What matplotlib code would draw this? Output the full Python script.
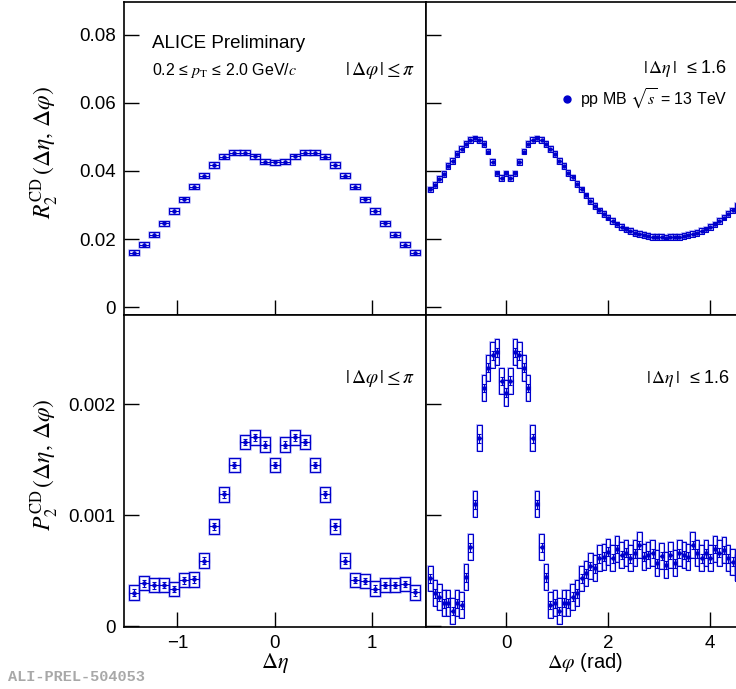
import numpy as np
import matplotlib
matplotlib.use('Agg')
from matplotlib import pyplot as plt
from matplotlib.lines import Line2D

plt.rcParams['font.family'] = ['Liberation Sans', 'DejaVu Sans']
plt.rcParams['mathtext.fontset'] = 'stix'

# R2 and P2 vs delta eta (|dphi| <= pi), 31 bins over [-1.6, 1.6], outer ones not shown
deta = np.arange(-14, 15) * 3.2 / 31
r2_eta = [0.0160, 0.0183, 0.0213, 0.0246, 0.0282, 0.0317, 0.0354, 0.0386, 0.0418, 0.0442,
          0.0454, 0.0454, 0.0443, 0.0427, 0.0426, 0.0427, 0.0443, 0.0454, 0.0454, 0.0442,
          0.0418, 0.0386, 0.0354, 0.0317, 0.0282, 0.0246, 0.0213, 0.0183, 0.0160]
p2_eta = [0.000300, 0.000385, 0.000367, 0.000369, 0.000333, 0.000412, 0.000420, 0.000589,
          0.000898, 0.001186, 0.001450, 0.001658, 0.001700, 0.001634, 0.001450, 0.001634,
          0.001700, 0.001658, 0.001450, 0.001186, 0.000898, 0.000589, 0.000414, 0.000405,
          0.000336, 0.000369, 0.000369, 0.000378, 0.000303]

# R2 and P2 vs delta phi (|deta| <= 1.6), 72 bins over 2pi
dphi = np.arange(-17, 54) * 2 * np.pi / 72
r2_phi = [0.0346, 0.0359, 0.0376, 0.0391, 0.0414, 0.0429, 0.0450, 0.0464, 0.0479, 0.0491,
          0.0496, 0.0491, 0.0479, 0.0457, 0.0427, 0.0393, 0.0379, 0.0393, 0.0379, 0.0393,
          0.0427, 0.0457, 0.0479, 0.0491, 0.0496, 0.0491, 0.0479, 0.0464, 0.0450, 0.0430,
          0.0414, 0.0394, 0.0381, 0.0362, 0.0346, 0.0328, 0.0311, 0.0297, 0.0284, 0.0273,
          0.0263, 0.0252, 0.0243, 0.0236, 0.0228, 0.0223, 0.0218, 0.0214, 0.0211, 0.0208,
          0.0206, 0.0206, 0.0205, 0.0204, 0.0205, 0.0206, 0.0206, 0.0208, 0.0211, 0.0214,
          0.0218, 0.0223, 0.0228, 0.0236, 0.0243, 0.0252, 0.0263, 0.0273, 0.0284, 0.0297,
          0.0311]
p2_phi = [0.000429, 0.000294, 0.000264, 0.000204, 0.000210, 0.000135, 0.000204, 0.000189,
          0.000439, 0.000709, 0.001096, 0.001691, 0.002144, 0.002327, 0.002441, 0.002468,
          0.002207, 0.002102, 0.002210, 0.002468, 0.002441, 0.002327, 0.002144, 0.001691,
          0.001096, 0.000709, 0.000439, 0.000189, 0.000204, 0.000135, 0.000210, 0.000204,
          0.000264, 0.000294, 0.000429, 0.000474, 0.000541, 0.000520, 0.000610, 0.000625,
          0.000670, 0.000610, 0.000694, 0.000640, 0.000661, 0.000610, 0.000655, 0.000730,
          0.000625, 0.000640, 0.000655, 0.000565, 0.000631, 0.000550, 0.000640, 0.000565,
          0.000655, 0.000640, 0.000625, 0.000730, 0.000655, 0.000610, 0.000655, 0.000610,
          0.000694, 0.000661, 0.000685, 0.000610, 0.000580, 0.000520, 0.000470]

col = '#0000cc'
halo = '#8080f0'


def draw(ax, x, y, bw, sys, stat, cap, halo_lw):
    y = np.asarray(y)
    ax.bar(x, 2 * sys, bottom=y - sys, width=bw, fill=False, edgecolor=halo,
           linewidth=halo_lw, alpha=0.55, zorder=2)
    ax.bar(x, 2 * sys, bottom=y - sys, width=bw, fill=False, edgecolor=col,
           linewidth=0.8, zorder=3)
    ax.errorbar(x, y, xerr=bw / 2, yerr=stat, fmt='o', color=col, ms=2.2,
                elinewidth=0.8, capsize=cap, capthick=0.8, zorder=4)


fig = plt.figure(figsize=(7.36, 6.89), dpi=100)
L, M, R = 124 / 736, 426 / 736, 746 / 736
T, Mid, B = 1 - 2 / 689, 1 - 315 / 689, 1 - 627 / 689
ax_tl = fig.add_axes([L, Mid, M - L, T - Mid])
ax_tr = fig.add_axes([M, Mid, R - M, T - Mid])
ax_bl = fig.add_axes([L, B, M - L, Mid - B])
ax_br = fig.add_axes([M, B, R - M, Mid - B])

bw_eta = 3.2 / 31
bw_phi = 2 * np.pi / 72
draw(ax_tl, deta, r2_eta, bw_eta, 0.00078, 0.0006, 0, 1.8)
draw(ax_tr, dphi, r2_phi, bw_phi, 0.00083, 0.0003, 0, 1.3)
draw(ax_bl, deta, p2_eta, bw_eta, 0.000065, 0.00003, 1.5, 1.8)
draw(ax_br, dphi, p2_phi, bw_phi, 0.000116, 0.00004, 1.2, 1.3)

for ax in (ax_tl, ax_bl):
    ax.set_xlim(-1.549, 1.556)
    ax.set_xticks([-1, 0, 1])
for ax in (ax_tr, ax_br):
    ax.set_xlim(-np.pi / 2, 3 * np.pi / 2)
    ax.set_xticks([0, 2, 4])
for ax in (ax_tl, ax_tr):
    ax.set_ylim(-0.00235, 0.0897)
    ax.set_yticks([0, 0.02, 0.04, 0.06, 0.08])
    ax.tick_params(labelbottom=False)
for ax in (ax_bl, ax_br):
    ax.set_ylim(-0.000009, 0.002802)
    ax.set_yticks([0, 0.001, 0.002])
for ax in (ax_tr, ax_br):
    ax.tick_params(labelleft=False)

ax_tl.set_yticklabels(['0', '0.02', '0.04', '0.06', '0.08'])
ax_bl.set_yticklabels(['0', '0.001', '0.002'])
ax_bl.set_xticklabels(['\u22121', '0', '1'])
ax_br.set_xticklabels(['0', '2', '4'])

for ax in (ax_tl, ax_tr, ax_bl, ax_br):
    ax.tick_params(direction='in', length=11, width=1, labelsize=13.5, pad=6)
    for s in ax.spines.values():
        s.set_linewidth(1.2)

# annotations
ax_tl.text(0.093, 0.853, 'ALICE Preliminary', transform=ax_tl.transAxes, fontsize=13.5,
           va='baseline')
ax_tl.text(0.093, 0.767, '0.2 \u2264 $p_{\\mathrm{T}}$ \u2264 2.0 GeV/$c$',
           transform=ax_tl.transAxes, fontsize=11.5, va='baseline')
ax_tl.text(0.964, 0.767, r'$|\,\Delta\varphi\,| \leq \pi$', transform=ax_tl.transAxes,
           fontsize=14, va='baseline', ha='right')
ax_tr.text(0.941, 0.773, '$|\\,\\Delta\\eta\\,|$  \u2264 1.6', transform=ax_tr.transAxes,
           fontsize=13, va='baseline', ha='right')
ax_bl.text(0.964, 0.798, r'$|\,\Delta\varphi\,| \leq \pi$', transform=ax_bl.transAxes,
           fontsize=14, va='center', ha='right')
ax_br.text(0.95, 0.798, '$|\\,\\Delta\\eta\\,|$  \u2264 1.6', transform=ax_br.transAxes,
           fontsize=13, va='center', ha='right')

h = Line2D([], [], color=col, marker='o', ms=5, ls='none')
ax_tr.legend([h], [r'pp MB $\sqrt{s}$ = 13 TeV'], loc='center left',
             bbox_to_anchor=(0.372, 0.69), frameon=False, fontsize=11.5,
             handlelength=1.0, handletextpad=0.3)

fig.text(45 / 736, 1 - 152 / 689,
         r'$R_{2}^{\mathrm{CD}}\,(\Delta\eta,\,\Delta\varphi)$', rotation=90,
         ha='center', va='center', fontsize=17)
fig.text(45 / 736, 1 - 465 / 689,
         r'$P_{2}^{\mathrm{CD}}\,(\Delta\eta,\,\Delta\varphi)$', rotation=90,
         ha='center', va='center', fontsize=17)
fig.text(275 / 736, 1 - 663 / 689, r'$\Delta\eta$', ha='center', va='center', fontsize=16)
fig.text(585 / 736, 1 - 663 / 689, r'$\Delta\varphi$ (rad)', ha='center', va='center',
         fontsize=14.5)
fig.text(8 / 736, 1 - 677 / 689, 'ALI-PREL-504053', family='Liberation Mono',
         weight='bold', color='#a8a8a8', fontsize=11, ha='left', va='center')

fig.savefig('out.png', dpi=100)
